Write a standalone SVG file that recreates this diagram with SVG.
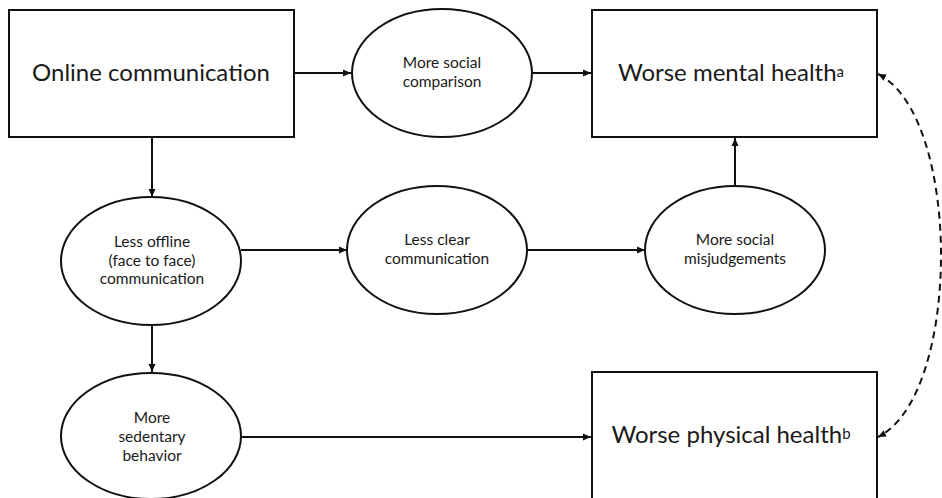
<svg xmlns="http://www.w3.org/2000/svg" width="942" height="498" viewBox="0 0 942 498">
  <defs>
    <style>
      .box { fill: #ffffff; stroke: #111111; stroke-width: 2; }
      .oval { fill: #ffffff; stroke: #111111; stroke-width: 2; }
      .big { font-family: Lato, "Liberation Sans", sans-serif; font-size: 24px; fill: #1a1a1a; text-anchor: middle; }
      .small { font-family: Lato, "Liberation Sans", sans-serif; font-size: 15.5px; fill: #1a1a1a; text-anchor: middle; }
      .sup { font-size: 15px; }
      .link { fill: none; stroke: #111111; stroke-width: 2; }
      .dash { fill: none; stroke: #111111; stroke-width: 2; stroke-dasharray: 7 5; }
    </style>
    <marker id="arrow" markerUnits="userSpaceOnUse" markerWidth="9" markerHeight="8" refX="8" refY="4" orient="auto-start-reverse">
      <path d="M0,0.5 L8,4 L0,7.5 z" fill="#111111"/>
    </marker>
  </defs>

  <rect width="942" height="498" fill="#ffffff"/>

  <!-- connectors -->
  <g id="connectors">
    <line class="link" x1="294" y1="73" x2="351" y2="73" marker-end="url(#arrow)"/>
    <line class="link" x1="532" y1="73" x2="591" y2="73" marker-end="url(#arrow)"/>
    <line class="link" x1="152" y1="137" x2="152" y2="197" marker-end="url(#arrow)"/>
    <line class="link" x1="241" y1="250" x2="347" y2="250" marker-end="url(#arrow)"/>
    <line class="link" x1="527" y1="250" x2="645" y2="250" marker-end="url(#arrow)"/>
    <line class="link" x1="735" y1="186" x2="735" y2="138" marker-end="url(#arrow)"/>
    <line class="link" x1="152" y1="325" x2="152" y2="372" marker-end="url(#arrow)"/>
    <line class="link" x1="241" y1="437" x2="591" y2="437" marker-end="url(#arrow)"/>
    <path class="dash" d="M878,74 C962,116 962,395 878,437" marker-start="url(#arrow)" marker-end="url(#arrow)"/>
  </g>

  <!-- rectangular nodes -->
  <g id="online-communication">
    <rect class="box" x="9" y="10" width="285" height="127"/>
    <text class="big" x="151" y="81">Online communication</text>
  </g>
  <g id="worse-mental-health">
    <rect class="box" x="592" y="10" width="285" height="127"/>
    <text class="big" x="731" y="81">Worse mental health<tspan class="sup" dy="-4">a</tspan></text>
  </g>
  <g id="worse-physical-health">
    <rect class="box" x="592" y="372" width="285" height="132"/>
    <text class="big" x="731" y="443">Worse physical health<tspan class="sup" dy="-4">b</tspan></text>
  </g>

  <!-- oval nodes -->
  <g id="more-social-comparison">
    <ellipse class="oval" cx="442" cy="73" rx="90" ry="64"/>
    <text class="small" x="442" y="68">More social</text>
    <text class="small" x="442" y="87">comparison</text>
  </g>
  <g id="less-offline-communication">
    <ellipse class="oval" cx="151" cy="261" rx="90" ry="64"/>
    <text class="small" x="152" y="247">Less offline</text>
    <text class="small" x="152" y="266">(face to face)</text>
    <text class="small" x="152" y="284">communication</text>
  </g>
  <g id="less-clear-communication">
    <ellipse class="oval" cx="437" cy="250" rx="90" ry="64"/>
    <text class="small" x="437" y="245">Less clear</text>
    <text class="small" x="437" y="264">communication</text>
  </g>
  <g id="more-social-misjudgements">
    <ellipse class="oval" cx="735" cy="250" rx="90" ry="64"/>
    <text class="small" x="735" y="245">More social</text>
    <text class="small" x="735" y="264">misjudgements</text>
  </g>
  <g id="more-sedentary-behavior">
    <ellipse class="oval" cx="151" cy="436" rx="90" ry="63"/>
    <text class="small" x="152" y="423">More</text>
    <text class="small" x="152" y="442">sedentary</text>
    <text class="small" x="152" y="461">behavior</text>
  </g>
</svg>
